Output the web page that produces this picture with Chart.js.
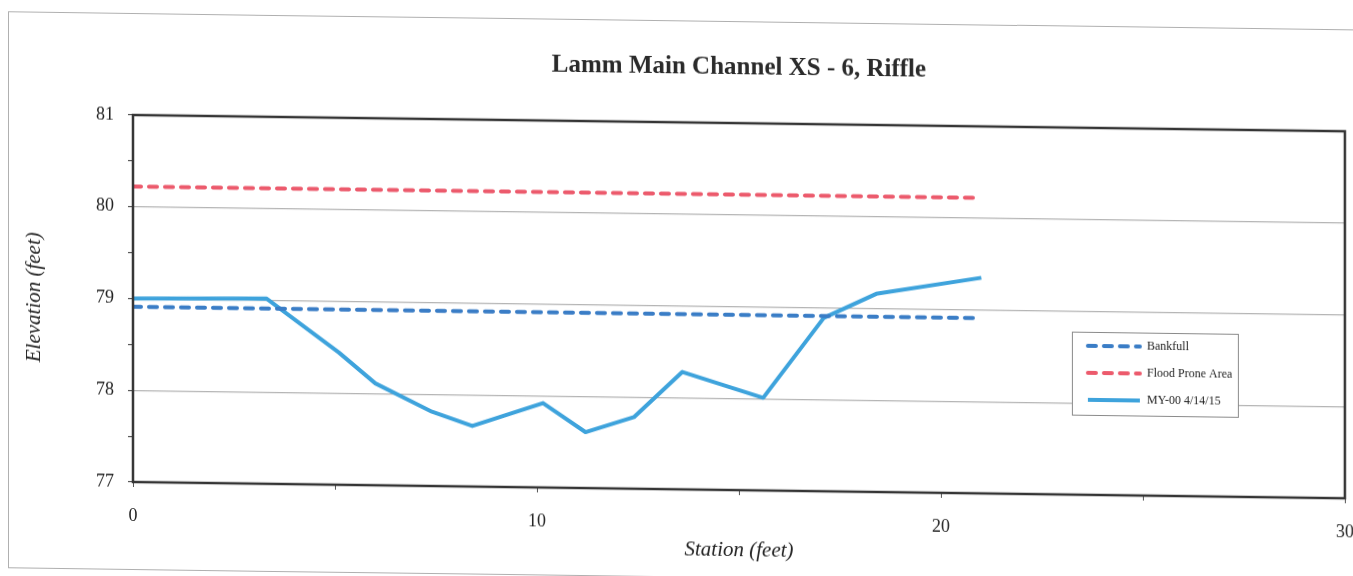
<!DOCTYPE html>
<html><head><meta charset="utf-8">
<script src="https://cdn.jsdelivr.net/npm/chart.js@4.4.0/dist/chart.umd.min.js"></script>
<style>
html,body{margin:0;padding:0;background:#fff;overflow:hidden;width:1353px;height:576px;}
#wrap{position:absolute;left:0;top:0;width:1353px;height:576px;transform:skewY(0.77deg);transform-origin:133px 0;}
#frame{position:absolute;left:8px;top:13px;width:1370px;height:555px;border:1px solid #b0b0b0;}
canvas{position:absolute;left:0;top:0;}
</style></head>
<body><div id="wrap"><div id="frame"></div><canvas id="c" width="1353" height="576"></canvas></div>
<script>
const chartTitle = 'Lamm Main Channel XS - 6, Riffle';
const xTitle = 'Station (feet)';
const yTitle = 'Elevation (feet)';
const seriesNames = ['Bankfull', 'Flood Prone Area', 'MY-00 4/14/15'];
const stationMY = [0, 3.3, 5.1, 6.0, 7.4, 8.4, 10.15, 11.2, 12.4, 13.6, 15.6, 17.1, 18.4, 21.0];
const elevMY = [79.0, 79.02, 78.44, 78.11, 77.81, 77.66, 77.92, 77.61, 77.78, 78.28, 78.01, 78.89, 79.16, 79.35];
const stationBank = [0, 20.9];
const elevBank = [78.91, 78.91];
const stationFlood = [0, 20.9];
const elevFlood = [80.22, 80.22];
const xTickLabels = [0, 10, 20, 30];
const yTickLabels = [77, 78, 79, 80, 81];

const pts = (xs, ys) => xs.map((x, i) => ({x: x, y: ys[i]}));
const serif = '"Liberation Serif", "Times New Roman", serif';

const frame = {
  id: 'frame',
  afterDraw(chart) {
    const a = chart.chartArea, ctx = chart.ctx;
    ctx.save();
    ctx.strokeStyle = '#353535';
    ctx.lineWidth = 2.5;
    ctx.strokeRect(a.left, a.top, a.right - a.left, a.bottom - a.top);
    ctx.restore();
  }
};

const legendBox = {
  id: 'legendBox',
  afterDraw(chart) {
    const ctx = chart.ctx;
    const bx = 1072, by = 319, bw = 166, bh = 83;
    ctx.save();
    ctx.fillStyle = '#fff';
    ctx.fillRect(bx, by, bw, bh);
    ctx.strokeStyle = '#8a8a8a';
    ctx.lineWidth = 1;
    ctx.strokeRect(bx + 0.5, by + 0.5, bw, bh);
    const rows = [by + 14, by + 41, by + 68];
    chart.data.datasets.forEach((ds, i) => {
      const y = rows[i];
      ctx.beginPath();
      ctx.strokeStyle = ds.borderColor;
      ctx.lineWidth = ds.borderWidth;
      ctx.lineCap = ds.borderCapStyle || 'butt';
      ctx.setLineDash(ds.borderDash || []);
      ctx.moveTo(1088, y);
      ctx.lineTo(1140, y);
      ctx.stroke();
      ctx.setLineDash([]);
      ctx.fillStyle = '#222';
      ctx.font = '12px ' + serif;
      ctx.textBaseline = 'middle';
      ctx.fillText(ds.label, 1147, y);
    });
    ctx.restore();
  }
};

new Chart(document.getElementById('c'), {
  type: 'line',
  data: {
    datasets: [
      {label: seriesNames[0], data: pts(stationBank, elevBank), borderColor: '#3a7dc6', borderWidth: 4,
       borderDash: [8, 8], borderCapStyle: 'round', pointRadius: 0, fill: false},
      {label: seriesNames[1], data: pts(stationFlood, elevFlood), borderColor: '#ec5a6c', borderWidth: 4,
       borderDash: [8, 8], borderCapStyle: 'round', pointRadius: 0, fill: false},
      {label: seriesNames[2], data: pts(stationMY, elevMY), borderColor: '#3ea3dc', borderWidth: 4,
       borderJoinStyle: 'round', pointRadius: 0, fill: false, tension: 0}
    ]
  },
  options: {
    responsive: false,
    animation: false,
    layout: {padding: {left: 0, right: 8, top: 0, bottom: 0}},
    plugins: {
      legend: {display: false},
      tooltip: {enabled: false},
      title: {display: true, fullSize: false, text: chartTitle, color: '#2a2a2a',
        font: {family: serif, size: 25, weight: 'bold'}, padding: {top: 45, bottom: 40}}
    },
    scales: {
      x: {
        type: 'linear', min: 0, max: 30,
        afterFit(s) { s.height = 94; s.paddingRight = 0; s.paddingLeft = 0; },
        afterBuildTicks(s) { s.ticks = [0,5,10,15,20,25,30].map(v => ({value: v})); },
        ticks: {color: '#222', font: {family: serif, size: 18}, padding: 18,
          callback: v => xTickLabels.includes(v) ? String(v) : ''},
        grid: {drawOnChartArea: false, drawTicks: true, tickLength: 5, tickColor: '#555'},
        border: {display: false},
        title: {display: true, text: xTitle, color: '#222',
          font: {family: serif, size: 21, style: 'italic'}, padding: {top: 0, bottom: 21}}
      },
      y: {
        type: 'linear', min: 77, max: 81,
        afterFit(s) { s.width = 133; },
        afterBuildTicks(s) { s.ticks = [77,77.5,78,78.5,79,79.5,80,80.5,81].map(v => ({value: v})); },
        ticks: {color: '#222', font: {family: serif, size: 18}, padding: 14,
          callback: v => yTickLabels.includes(v) ? String(v) : ''},
        grid: {drawTicks: true, tickLength: 5, tickColor: '#555',
          color: c => ([78, 79, 80].includes(c.tick && c.tick.value) ? '#b5b5b5' : 'rgba(0,0,0,0)'),
          lineWidth: 1.2},
        border: {display: false},
        title: {display: true, text: yTitle, color: '#222',
          font: {family: serif, size: 21, style: 'italic'}, padding: {top: 22, bottom: 0}}
      }
    }
  },
  plugins: [frame, legendBox]
});
</script>
</body></html>
